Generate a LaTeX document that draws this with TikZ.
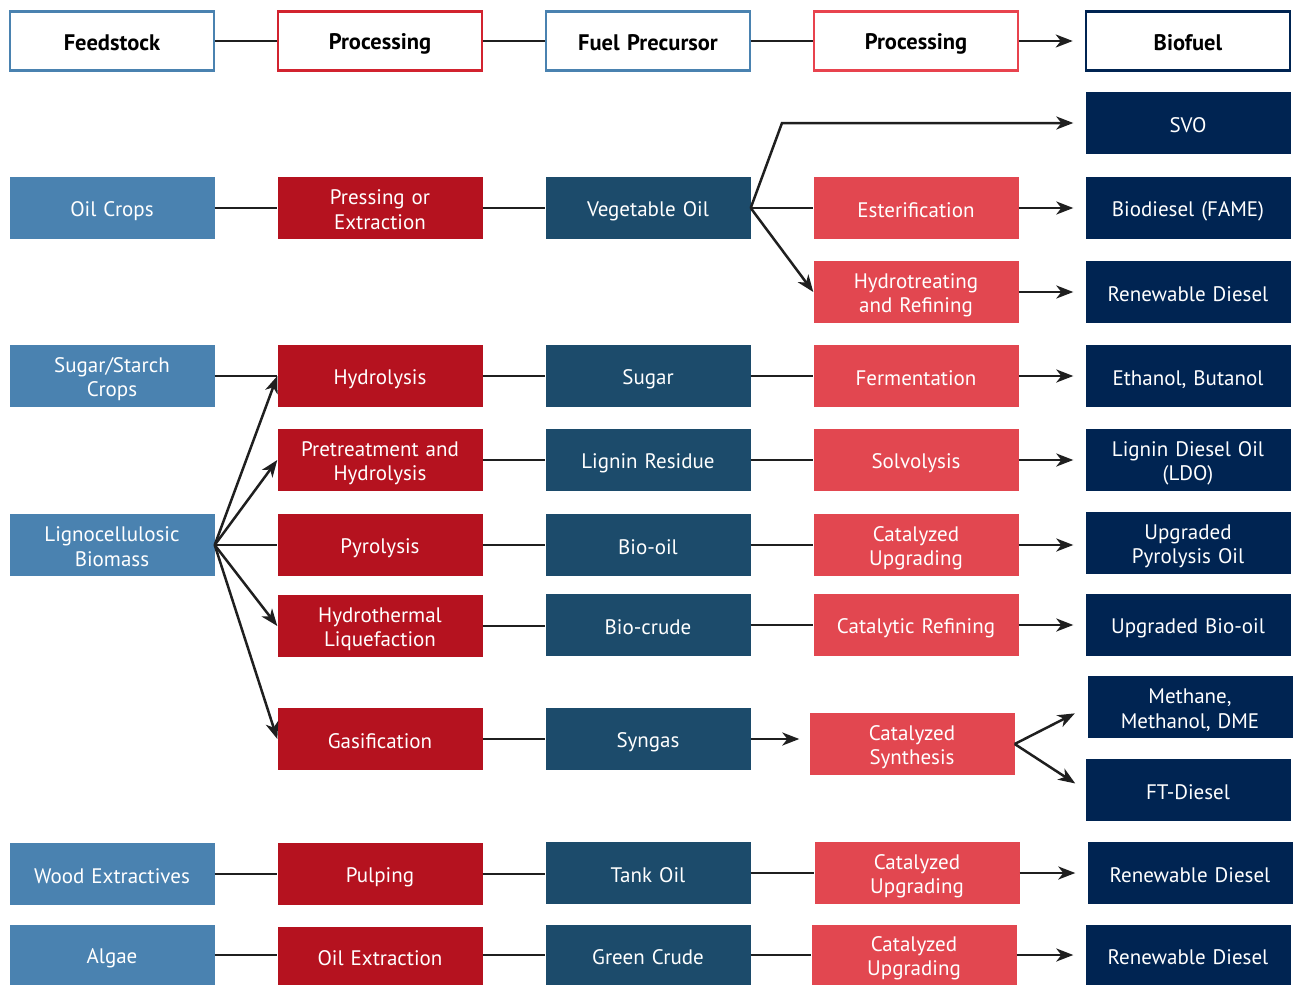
\documentclass[tikz,border=0pt]{standalone}
\usepackage{fontspec}
\setmainfont{PT Sans}
\usetikzlibrary{arrows.meta,math}
\definecolor{feedblue}{HTML}{4A82B0}
\definecolor{procred}{HTML}{B5121F}
\definecolor{precteal}{HTML}{1C4B6B}
\definecolor{upgred}{HTML}{E24750}
\definecolor{fuelnavy}{HTML}{002452}
\definecolor{headred}{HTML}{D2232F}
\definecolor{headpink}{HTML}{E8434E}

\begin{document}
\begin{tikzpicture}[x=1pt,y=-1pt,
		box/.style={minimum width=205pt,minimum height=62pt,inner sep=2pt,align=center,
			text width=200pt,font=\fontsize{21}{24.5}\selectfont,text=white,
			execute at begin node={\rule{0pt}{21.5pt}},
			execute at end node={\rule[-3.5pt]{0pt}{3.5pt}}},
		feed/.style={box,fill=feedblue},
		proc/.style={box,fill=procred},
		prec/.style={box,fill=precteal},
		upg/.style={box,fill=upgred},
		fuel/.style={box,fill=fuelnavy},
		head/.style={box,fill=white,draw=#1,line width=2.5pt,text=black,
			font=\fontsize{22.5}{25}\selectfont\bfseries,minimum width=203pt,minimum height=59pt},
		link/.style={line width=2.5pt,draw=black!88},
		flow/.style={link,-{Stealth[length=17pt,width=13pt,inset=5pt]}},
		to_fuel/.style={flow,shorten >=12pt},
	]
	\useasboundingbox (0,0) rectangle (1294,985);
	\tikzmath{\ca=112; \cb=380; \cc=648; \cd=916; \ce=1188;}
	%
	% header
	\node[head=feedblue]  (h_feed)  at (\ca,41) {Feedstock};
	\node[head=headred]   (h_proc)  at (\cb,41) {Processing};
	\node[head=feedblue]  (h_prec)  at (\cc,41) {Fuel Precursor};
	\node[head=headpink]  (h_upg)   at (\cd,41) {Processing};
	\node[head=fuelnavy]  (h_fuel)  at (\ce,41) {Biofuel};
	\draw[link] (h_feed) -- (h_proc);
	\draw[link] (h_proc) -- (h_prec);
	\draw[link] (h_prec) -- (h_upg);
	\draw[to_fuel] (h_upg) -- (h_fuel);
	%
	% oil crops
	\node[fuel] (svo)      at (\ce,123) {SVO};
	\node[feed] (oil)      at (\ca,208) {Oil Crops};
	\node[proc] (press)    at (\cb,208) {Pressing or\\Extraction};
	\node[prec] (vegoil)   at (\cc,208) {Vegetable Oil};
	\node[upg]  (ester)    at (\cd,208) {Esterification};
	\node[fuel] (fame)     at (\ce,208) {Biodiesel (FAME)};
	\node[upg]  (hydrot)   at (\cd,292) {Hydrotreating\\and Refining};
	\node[fuel] (rdiesel1) at (\ce,292) {Renewable Diesel};
	\coordinate (svo_bend) at (782,123);
	\draw[link] (oil) -- (press);
	\draw[link] (press) -- (vegoil);
	\draw[to_fuel] (vegoil.east) -- (svo_bend) -- (svo.west);
	\draw[link] (vegoil) -- (ester);
	\draw[to_fuel] (ester) -- (fame);
	\draw[flow] (vegoil.east) -- (hydrot.west);
	\draw[to_fuel] (hydrot) -- (rdiesel1);
	%
	% sugar / lignocellulosic
	\node[feed] (sugarcrops) at (\ca,376) {Sugar/Starch\\Crops};
	\node[proc] (hydrol)     at (\cb,376) {Hydrolysis};
	\node[prec] (sugar)      at (\cc,376) {Sugar};
	\node[upg]  (ferment)    at (\cd,376) {Fermentation};
	\node[fuel] (ethanol)    at (\ce,376) {Ethanol, Butanol};
	\draw[link] (sugarcrops) -- (hydrol);
	\draw[link] (hydrol) -- (sugar);
	\draw[link] (sugar) -- (ferment);
	\draw[to_fuel] (ferment) -- (ethanol);
	%
	\node[proc] (pretreat) at (\cb,460) {Pretreatment and\\Hydrolysis};
	\node[prec] (lignin)   at (\cc,460) {Lignin Residue};
	\node[upg]  (solvo)    at (\cd,460) {Solvolysis};
	\node[fuel] (ldo)      at (\ce,460) {Lignin Diesel Oil\\(LDO)};
	\draw[link] (pretreat) -- (lignin);
	\draw[link] (lignin) -- (solvo);
	\draw[to_fuel] (solvo) -- (ldo);
	%
	\node[feed] (lignocell) at (\ca,545) {Lignocellulosic\\Biomass};
	\node[proc] (pyro)      at (\cb,545) {Pyrolysis};
	\node[prec] (biooil)    at (\cc,545) {Bio-oil};
	\node[upg]  (catupg1)   at (\cd,545) {Catalyzed\\Upgrading};
	\node[fuel] (upo)       at (\ce,543) {Upgraded\\Pyrolysis Oil};
	\draw[link] (lignocell) -- (pyro);
	\draw[link] (pyro) -- (biooil);
	\draw[link] (biooil) -- (catupg1);
	\draw[to_fuel] (catupg1) -- (catupg1 -| upo.west);
	%
	\node[proc] (htl)      at (\cb,626) {Hydrothermal\\Liquefaction};
	\node[prec] (biocrude) at (\cc,625) {Bio-crude};
	\node[upg]  (catref)   at (\cd,625) {Catalytic Refining};
	\node[fuel] (ubo)      at (\ce,625) {Upgraded Bio-oil};
	\draw[link] (htl.east) -- (htl.east -| biocrude.west);
	\draw[link] (biocrude) -- (catref);
	\draw[to_fuel] (catref) -- (ubo);
	%
	\node[proc] (gasif)   at (\cb,739) {Gasification};
	\node[prec] (syngas)  at (\cc,739) {Syngas};
	\node[upg]  (catsyn)  at (912,744) {Catalyzed\\Synthesis};
	\node[fuel] (methane) at (1190,707) {Methane,\\Methanol, DME};
	\node[fuel] (ftd)     at (\ce,790) {FT-Diesel};
	\draw[link] (gasif) -- (syngas);
	\draw[flow,shorten >=10pt] (syngas.east) -- (syngas.east -| catsyn.west);
	\draw[flow,shorten >=14pt] (catsyn.east) -- (methane.west);
	\draw[flow,shorten >=12pt] (catsyn.east) -- (ftd.west);
	%
	\foreach \dst in {hydrol,pretreat,htl,gasif}
		\draw[flow] (lignocell.east) -- (\dst.west);
	%
	% wood extractives
	\node[feed] (wood)     at (\ca,874) {Wood Extractives};
	\node[proc] (pulp)     at (\cb,874) {Pulping};
	\node[prec] (tankoil)  at (\cc,873) {Tank Oil};
	\node[upg]  (catupg2)  at (917,873) {Catalyzed\\Upgrading};
	\node[fuel] (rdiesel2) at (1190,873) {Renewable Diesel};
	\draw[link] (wood) -- (pulp);
	\draw[link] (pulp.east) -- (pulp.east -| tankoil.west);
	\draw[link] (tankoil) -- (catupg2);
	\draw[to_fuel] (catupg2) -- (rdiesel2);
	%
	% algae
	\node[feed,minimum height=61pt] (algae)    at (\ca,955) {Algae};
	\node[proc,minimum height=59pt] (oilext)   at (\cb,956) {Oil Extraction};
	\node[prec,minimum height=61pt] (greencr)  at (\cc,955) {Green Crude};
	\node[upg,minimum height=61pt]  (catupg3)  at (914,955) {Catalyzed\\Upgrading};
	\node[fuel,minimum height=61pt] (rdiesel3) at (\ce,955) {Renewable Diesel};
	\draw[link] (algae.east) -- (algae.east -| oilext.west);
	\draw[link] (algae.east -| oilext.east) -- (greencr);
	\draw[link] (greencr) -- (catupg3);
	\draw[to_fuel] (catupg3) -- (rdiesel3);
\end{tikzpicture}
\end{document}
